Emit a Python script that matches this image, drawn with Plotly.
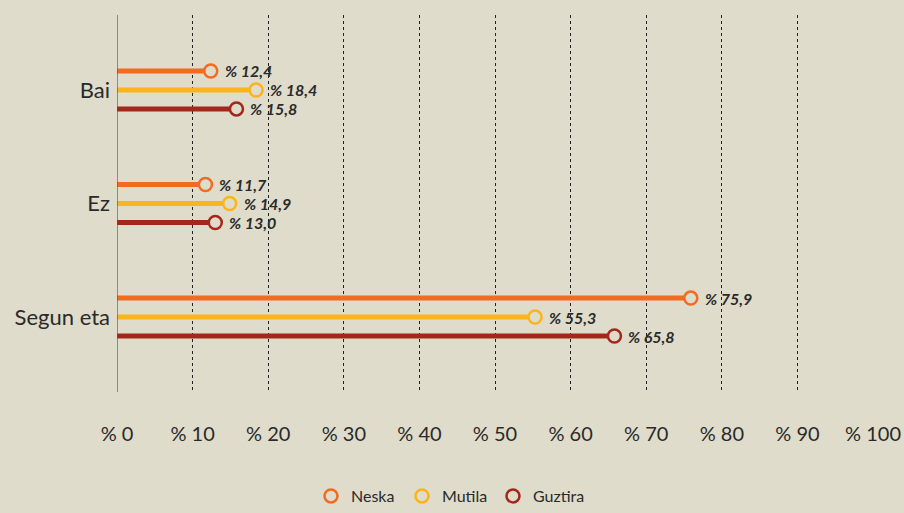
import plotly.graph_objects as go

categories = ["Bai", "Ez", "Segun eta"]
series_names = ["Neska", "Mutila", "Guztira"]
neska = [12.4, 11.7, 75.9]
mutila = [18.4, 14.9, 55.3]
guztira = [15.8, 13.0, 65.8]
x_ticks = [0, 10, 20, 30, 40, 50, 60, 70, 80, 90, 100]
x_tick_labels = ["% " + str(v) for v in x_ticks]

colors = ["#F26B21", "#FBB41A", "#A3281B"]
offsets = [-0.167, 0.0, 0.167]
bg = "#DFDCCB"

fig = go.Figure()
annotations = []
for name, vals, col, off in zip(series_names, [neska, mutila, guztira], colors, offsets):
    xs, ys = [], []
    for i, v in enumerate(vals):
        xs += [0, v, None]
        ys += [i + off, i + off, None]
    fig.add_trace(go.Scatter(x=xs, y=ys, mode="lines", line=dict(color=col, width=5),
                             showlegend=False, hoverinfo="skip"))
for name, vals, col, off in zip(series_names, [neska, mutila, guztira], colors, offsets):
    fig.add_trace(go.Scatter(
        x=vals, y=[i + off for i in range(len(vals))], mode="markers", name=name,
        marker=dict(symbol="circle", size=13, color=bg, line=dict(color=col, width=2.5)),
        cliponaxis=False))
    for i, v in enumerate(vals):
        annotations.append(dict(
            x=v, y=i + off, xref="x", yref="y", xanchor="left", yanchor="middle",
            xshift=12, showarrow=False,
            text="<b><i>% " + f"{v:.1f}".replace(".", ",") + "</i></b>",
            font=dict(size=16, color="#2a2a2a")))

fig.update_layout(
    width=904, height=513, paper_bgcolor=bg, plot_bgcolor=bg,
    margin=dict(l=117, r=31, t=15, b=121, autoexpand=False),
    font=dict(family="Lato", color="#2a2a2a", size=17),
    showlegend=True,
    annotations=annotations,
    legend=dict(orientation="h", xref="container", x=0.495, xanchor="center",
                yref="container", y=-0.012, yanchor="bottom",
                font=dict(size=16), bgcolor="rgba(0,0,0,0)", itemwidth=30,
                entrywidth=46),
    xaxis=dict(range=[0, 100], tickvals=x_ticks, ticktext=x_tick_labels,
               showgrid=True, gridcolor="#222222", griddash="dot", gridwidth=1,
               zeroline=False, showline=False, ticks="", ticklabelstandoff=28,
               tickfont=dict(size=20), automargin=False),
    yaxis=dict(range=[2.66, -0.66], tickvals=list(range(len(categories))), ticktext=categories,
               showgrid=False, zeroline=False, showline=False, ticks="",
               ticklabelstandoff=6, tickfont=dict(size=22), automargin=False),
    shapes=[dict(type="line", xref="x", yref="paper", x0=0, x1=0, y0=0, y1=1,
                 line=dict(color="#555555", width=1.2))],
)
fig.write_html("out.html", config={"displayModeBar": False},
               post_script="document.body.style.margin='0';document.body.style.backgroundColor='#DFDCCB';")
